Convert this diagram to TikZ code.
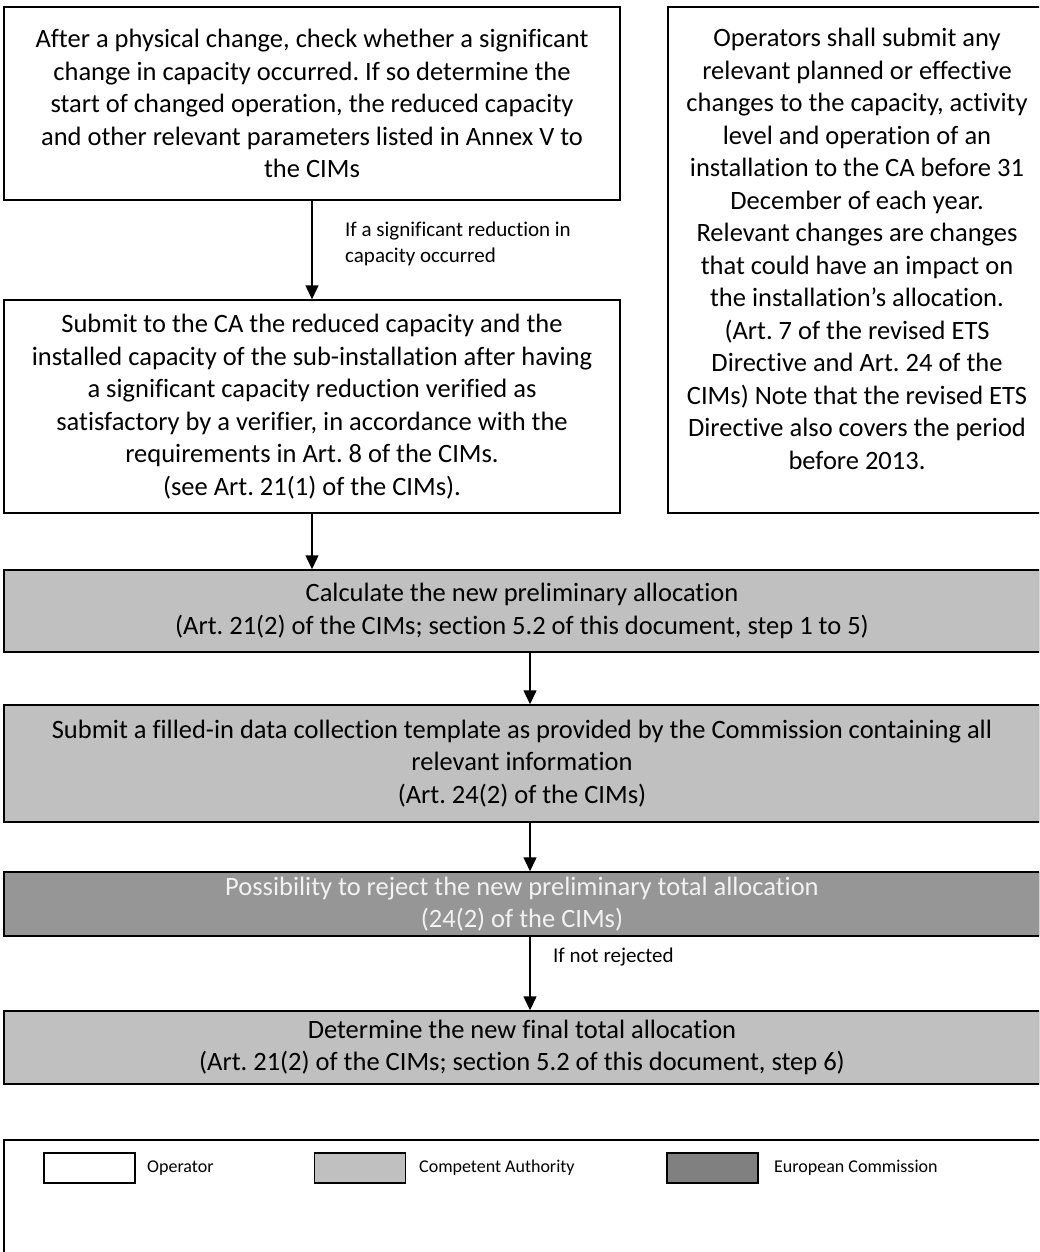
\documentclass[tikz,border=0pt]{standalone}
\usepackage{fontspec}
\setmainfont{Carlito}[Ligatures=NoCommon]
\usetikzlibrary{arrows.meta}
\definecolor{cagray}{RGB}{192,192,192}
\definecolor{ecgray}{RGB}{150,150,150}
\definecolor{ecswatch}{RGB}{128,128,128}
\definecolor{ectext}{RGB}{242,242,242}
\frenchspacing
\tikzset{
  boxbase/.style={rectangle, draw=black, line width=1.5pt, inner sep=0pt, align=center,
    font=\fontsize{26.5}{32.5}\selectfont},
  opbox/.style={boxbase, fill=white},
  cabox/.style={boxbase, fill=cagray},
  ecbox/.style={boxbase, fill=ecgray, text=ectext},
  boxtext/.style={align=center, inner sep=0pt, font=\fontsize{26.5}{32.5}\selectfont},
  arr/.style={line width=1.5pt, -{Triangle[width=13pt,length=14pt]}},
  lbl/.style={anchor=west, align=left, inner sep=0pt, font=\fontsize{21}{26}\selectfont},
  swatch/.style={rectangle, draw=black, line width=1.3pt, minimum width=91pt, minimum height=30pt, inner sep=0pt},
  legtext/.style={anchor=west, inner sep=0pt, font=\fontsize{18}{22}\selectfont}
}
\begin{document}
\begin{tikzpicture}[x=1pt,y=-1pt]
\useasboundingbox (0,0) rectangle (1039,1252);
\clip (0,0) rectangle (1039,1252);
\fill[white] (0,0) rectangle (1039,1252);

\node[opbox, minimum width=616pt, minimum height=193pt] (b1) at (312,103.5)
  {After a physical change, check whether a significant\\
   change in capacity occurred. If so determine the\\
   start of changed operation, the reduced capacity\\
   and other relevant parameters listed in Annex V to\\
   the CIMs};

\node[opbox, minimum width=616pt, minimum height=213pt] (b3) at (312,406.5)
  {Submit to the CA the reduced capacity and the\\
   installed capacity of the sub-installation after having\\
   a significant capacity reduction verified as\\
   satisfactory by a verifier, in accordance with the\\
   requirements in Art. 8 of the CIMs.\\
   (see Art. 21(1) of the CIMs).};

\node[opbox, minimum width=378pt, minimum height=506pt] (b2) at (857,260) {};
\node[boxtext] (b2t) at (857,249)
  {Operators shall submit any\\
   relevant planned or effective\\
   changes to the capacity, activity\\
   level and operation of an\\
   installation to the CA before 31\\
   December of each year.\\
   Relevant changes are changes\\
   that could have an impact on\\
   the installation’s allocation.\\
   (Art. 7 of the revised ETS\\
   Directive and Art. 24 of the\\
   CIMs) Note that the revised ETS\\
   Directive also covers the period\\
   before 2013.};

\node[cabox, minimum width=1036pt, minimum height=82pt] (g1) at (522,611)
  {Calculate the new preliminary allocation\\
   (Art. 21(2) of the CIMs; section 5.2 of this document, step 1 to 5)};

\node[cabox, minimum width=1036pt, minimum height=117pt] (g2) at (522,763.5)
  {Submit a filled-in data collection template as provided by the Commission containing all\\
   relevant information\\
   (Art. 24(2) of the CIMs)};

\node[ecbox, minimum width=1036pt, minimum height=64pt] (ec) at (522,904)
  {Possibility to reject the new preliminary total allocation\\
   (24(2) of the CIMs)};

\node[cabox, minimum width=1036pt, minimum height=73pt] (g3) at (522,1047.5)
  {Determine the new final total allocation\\
   (Art. 21(2) of the CIMs; section 5.2 of this document, step 6)};

\draw[arr] (b1.south) -- (b3.north);
\draw[arr] (b3.south) -- (b3.south |- g1.north);
\draw[arr] ([xshift=8pt]g1.south) -- ([xshift=8pt]g2.north);
\draw[arr] ([xshift=8pt]g2.south) -- ([xshift=8pt]ec.north);
\draw[arr] ([xshift=8pt]ec.south) -- ([xshift=8pt]g3.north);

\node[lbl] (l1) at (345,244) {If a significant reduction in\\capacity occurred};
\node[lbl] (l2) at (553,957) {If not rejected};

% legend
\node[rectangle, draw=black, line width=1.5pt, minimum width=1050pt, minimum height=130pt, inner sep=0pt] (leg) at (529,1205) {};
\node[swatch, fill=white] (s1) at (89.5,1168) {};
\node[legtext] (t1) at (147,1168) {Operator};
\node[swatch, fill=cagray] (s2) at (360,1168) {};
\node[legtext] (t2) at (419,1168) {Competent Authority};
\node[swatch, fill=ecswatch] (s3) at (712.5,1168) {};
\node[legtext] (t3) at (774,1168) {European Commission};
\end{tikzpicture}
\end{document}
